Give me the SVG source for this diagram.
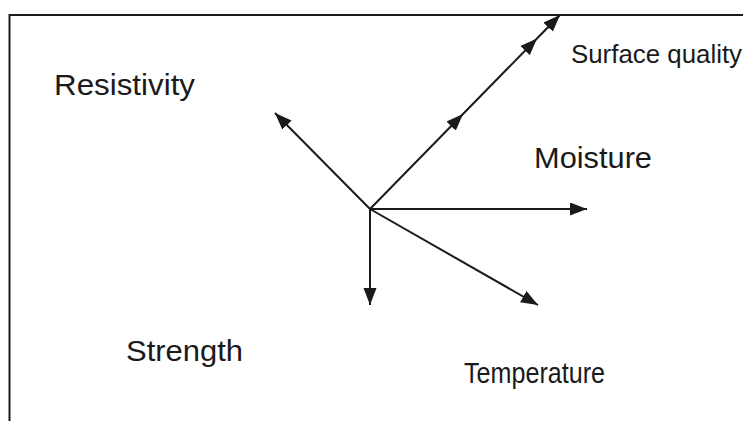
<svg xmlns="http://www.w3.org/2000/svg" width="743" height="421" viewBox="0 0 743 421">
<style>
.lbl{font-family:"Liberation Sans",Arial,sans-serif;fill:#1a1a1a}
.ln{stroke:#1a1a1a;stroke-width:2;fill:none}
.frame{stroke:#1a1a1a;stroke-width:2;fill:none}
</style>
<defs>
<marker id="ah" markerUnits="userSpaceOnUse" markerWidth="18" markerHeight="14" refX="17" refY="6.5" orient="auto">
<path d="M0,0 L17,6.5 L0,13 Z" fill="#1a1a1a"/>
</marker>
</defs>
<rect width="743" height="421" fill="#ffffff"/>
<path class="frame" d="M9.5,421 L9.5,15 L743,15"/>
<g id="connectors">
<line class="ln" x1="370" y1="209" x2="275" y2="113" marker-end="url(#ah)"/>
<polyline class="ln" points="370,209 463,114 537,38.5 560,15" marker-mid="url(#ah)" marker-end="url(#ah)"/>
<line class="ln" x1="370" y1="209" x2="587" y2="209" marker-end="url(#ah)"/>
<line class="ln" x1="370" y1="209" x2="370" y2="305" marker-end="url(#ah)"/>
<line class="ln" x1="370" y1="209" x2="538" y2="305" marker-end="url(#ah)"/>
</g>
<g id="resistivity"><text class="lbl" x="54" y="95" font-size="30" textLength="141" lengthAdjust="spacingAndGlyphs">Resistivity</text></g>
<g id="surface-quality"><text class="lbl" x="571" y="63" font-size="25" textLength="171" lengthAdjust="spacingAndGlyphs">Surface quality</text></g>
<g id="moisture"><text class="lbl" x="534" y="168" font-size="30" textLength="118" lengthAdjust="spacingAndGlyphs">Moisture</text></g>
<g id="strength"><text class="lbl" x="126" y="361" font-size="29" textLength="117" lengthAdjust="spacingAndGlyphs">Strength</text></g>
<g id="temperature"><text class="lbl" x="464" y="383" font-size="29" textLength="141" lengthAdjust="spacingAndGlyphs">Temperature</text></g>
</svg>
